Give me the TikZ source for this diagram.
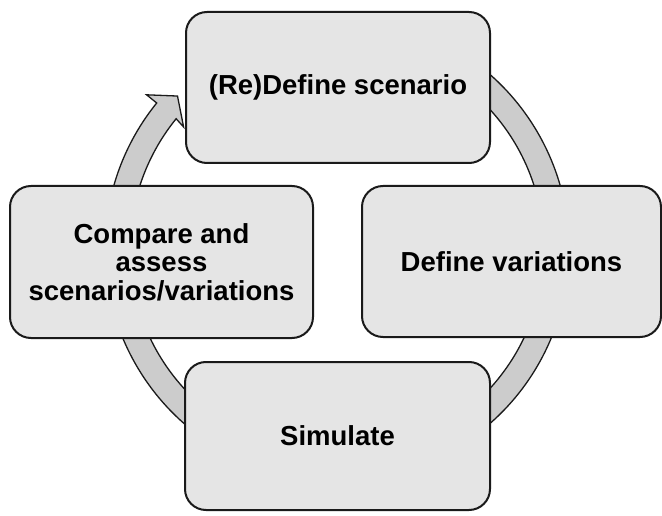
\documentclass[tikz,border=0pt]{standalone}
\usepackage{fontspec}
\setmainfont{Liberation Sans}
\usetikzlibrary{calc}
\definecolor{boxfill}{HTML}{E5E5E5}
\definecolor{bandfill}{HTML}{CCCCCC}
\definecolor{edge}{HTML}{1A1A1A}
\tikzset{
  stage/.style={draw=edge, line width=2pt, fill=boxfill, rounded corners=21pt,
    rectangle, align=center, inner sep=0pt,
    font=\fontsize{27.5}{28.5}\selectfont\bfseries},
  band/.style={draw=edge, line width=1.3pt, fill=bandfill, line join=miter}
}
\begin{document}
\begin{tikzpicture}[x=1pt,y=1pt]
\useasboundingbox (0,0) rectangle (662,515);
\coordinate (C) at (337,266);
% circular arrow band
\path[band] ($(C)+(120:232pt)$) arc[start angle=120, end angle=-219, radius=232pt]
  -- ($(C)+(141:245pt)$) -- ($(C)+(136.2:221pt)$) -- ($(C)+(141.5:196pt)$)
  -- ($(C)+(141:207pt)$) arc[start angle=-219, end angle=120, radius=207pt] -- cycle;
% boxes
\node[stage, minimum width=304pt, minimum height=151pt] (define) at (338,427.5) {(Re)Define scenario};
\node[stage, minimum width=299pt, minimum height=151pt] (vary) at (511.5,253.5) {Define variations};
\node[stage, minimum width=305pt, minimum height=148pt] (sim) at (337.5,79) {Simulate};
\node[stage, minimum width=303pt, minimum height=152pt] (cmp) at (161.5,253) {Compare and\\assess\\scenarios/variations};
\end{tikzpicture}
\end{document}
